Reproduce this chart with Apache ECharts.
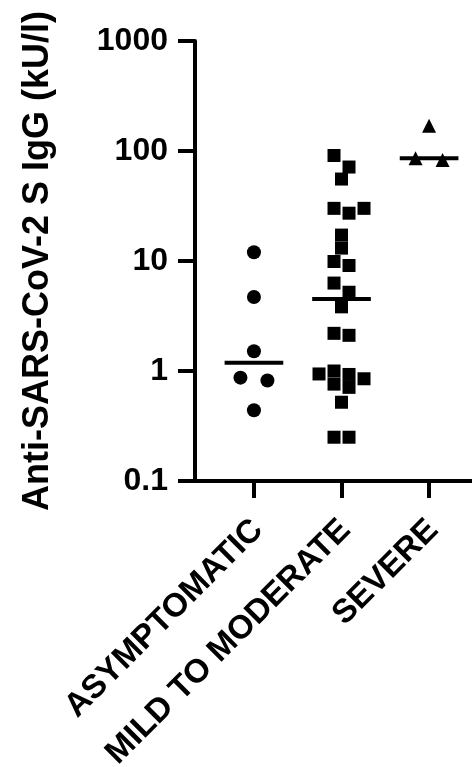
<!DOCTYPE html>
<html><head><meta charset="utf-8">
<script src="https://cdn.jsdelivr.net/npm/echarts@6/dist/echarts.min.js"></script>
<style>html,body{margin:0;padding:0;background:#fff}#c{width:472px;height:767px}</style>
</head><body><div id="c"></div>
<script>
// ---- data ----
const categories = ['ASYMPTOMATIC', 'MILD TO MODERATE', 'SEVERE'];
const asymptomatic = [12.0, 4.7, 1.51, 0.87, 0.82, 0.44];
const mildToModerate = [91, 71.5, 55.6, 30.1, 30.1, 27.2, 17.2, 13.1, 9.9, 9.1, 6.3, 5.2, 3.83, 2.2, 2.11, 1.0, 0.94, 0.93, 0.85, 0.76, 0.71, 0.52, 0.25, 0.25];
const severe = [170, 86, 83];
const yTicks = [0.1, 1, 10, 100, 1000];
const yTitle = 'Anti-SARS-CoV-2 S IgG (kU/l)';

// ---- chart ----
const FONT = 'Arial, "Liberation Sans", sans-serif';
const chart = echarts.init(document.getElementById('c'), null, {renderer: 'canvas'});
const catPos = categories.map((_, i) => i + 1);
const groups = [
  {values: asymptomatic, symbol: 'circle', size: 14, slot: 27},
  {values: mildToModerate, symbol: 'rect', size: 13, slot: 15},
  {values: severe, symbol: 'triangle', size: 14, slot: 27}
];
const axisLineStyle = {color: '#000', width: 4};
const labelShift = 0.045;
const xMin = 0.327, xMax = 3.49;
chart.setOption({
  animation: false,
  backgroundColor: '#fff',
  grid: {left: 195, right: 0, top: 41, bottom: 286, containLabel: false, outerBoundsMode: 'none'},
  xAxis: [{
    type: 'value', min: xMin, max: xMax,
    splitLine: {show: false},
    axisLine: {show: true, onZero: false, lineStyle: axisLineStyle},
    axisTick: {show: true, customValues: catPos, length: 17, lineStyle: axisLineStyle},
    axisLabel: {show: false}
  }, {
    type: 'value', min: xMin, max: xMax, position: 'bottom', offset: 0,
    splitLine: {show: false},
    axisLine: {show: false, onZero: false},
    axisTick: {show: false},
    axisLabel: {
      show: true, customValues: catPos.map(c => c + labelShift),
      formatter: v => categories[Math.round(v) - 1],
      rotate: 45, margin: 44, fontSize: 33, fontWeight: 'bold', fontFamily: FONT, color: '#000'
    }
  }],
  yAxis: {
    type: 'log', logBase: 10, min: yTicks[0], max: yTicks[yTicks.length - 1],
    splitLine: {show: false},
    axisLine: {show: true, onZero: false, lineStyle: axisLineStyle},
    axisTick: {show: true, customValues: yTicks, length: 17, lineStyle: axisLineStyle},
    axisLabel: {
      show: true, customValues: yTicks, formatter: v => String(Number(Number(v).toPrecision(6))),
      margin: 27, fontSize: 32, fontWeight: 'bold', fontFamily: FONT, color: '#000'
    },
    name: yTitle, nameLocation: 'middle', nameRotate: 90, nameGap: 139,
    nameTextStyle: {fontSize: 36, fontWeight: 'bold', fontFamily: FONT, color: '#000'}
  },
  series: []
});

// beeswarm layout computed from the values in pixel space
function swarmOffsets(values, size, slot) {
  const ys = values.map(v => chart.convertToPixel({yAxisIndex: 0}, v));
  const order = values.map((_, i) => i).sort((a, b) => values[a] - values[b]);
  const lim = size * 0.92;
  const half = slot / 2;
  const xs = new Array(values.length).fill(null);
  const placed = [];
  const hits = (x, y, skip) => placed.filter(j => !skip.includes(j) && Math.abs(xs[j] - x) < lim && Math.abs(ys[j] - y) < lim);
  const steps = [0];
  for (let k = 1; k <= 10; k++) steps.push(k * half, -k * half);
  for (const i of order) {
    const y = ys[i];
    const h0 = hits(0, y, []);
    if (h0.length === 0) xs[i] = 0;
    else if (h0.length === 1 && xs[h0[0]] === 0) {
      const p = h0[0];
      if (hits(half, ys[p], [p]).length === 0 && hits(-half, y, [p]).length === 0) { xs[p] = half; xs[i] = -half; }
      else xs[i] = steps.find(s => hits(s, y, []).length === 0);
    } else xs[i] = steps.find(s => hits(s, y, []).length === 0);
    placed.push(i);
  }
  return xs;
}
const pxPerUnit = chart.convertToPixel({xAxisIndex: 0}, 2) - chart.convertToPixel({xAxisIndex: 0}, 1);
function median(arr) {
  const s = arr.slice().sort((a, b) => a - b), n = s.length;
  return n % 2 ? s[(n - 1) / 2] : (s[n / 2 - 1] + s[n / 2]) / 2;
}
const series = [];
groups.forEach((g, gi) => {
  const c = catPos[gi];
  const offs = swarmOffsets(g.values, g.size, g.slot);
  series.push({
    type: 'scatter', symbol: g.symbol, symbolSize: g.size,
    itemStyle: {color: '#000', opacity: 1}, z: 3,
    emphasis: {disabled: true},
    data: g.values.map((v, i) => [c + offs[i] / pxPerUnit, v])
  });
  const m = median(g.values);
  series.push({
    type: 'line', symbol: 'none', silent: true, z: 4,
    lineStyle: {color: '#000', width: 4},
    data: [[c - 0.335, m], [c + 0.335, m]]
  });
});
chart.setOption({series});
</script>
</body></html>
